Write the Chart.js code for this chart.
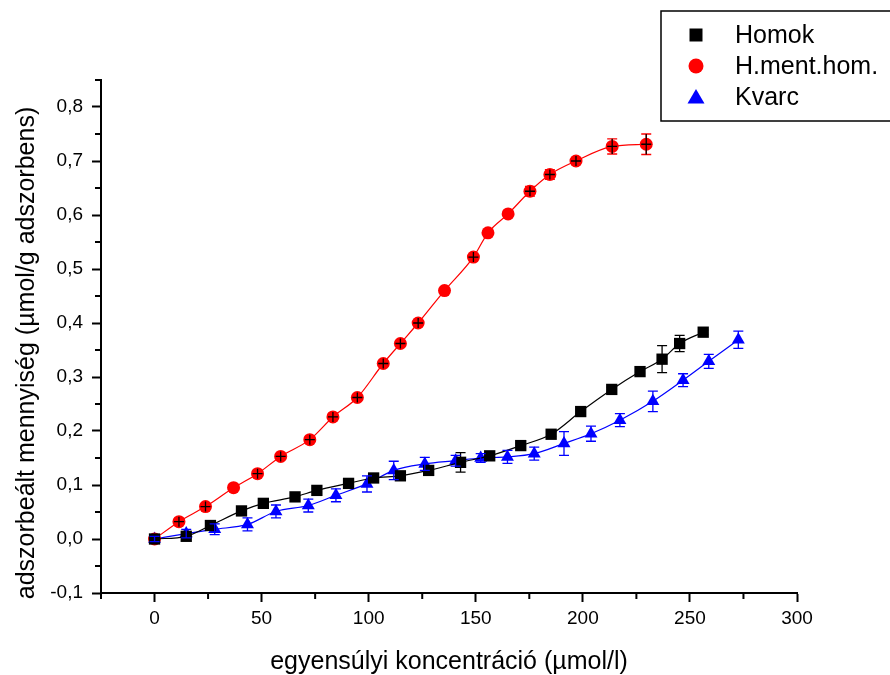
<!DOCTYPE html>
<html>
<head>
<meta charset="utf-8">
<script src="https://cdn.jsdelivr.net/npm/chart.js@4"></script>
<style>
  html, body { margin: 0; padding: 0; background: #fff; }
  #wrap { width: 890px; height: 675px; }
</style>
</head>
<body>
<div id="wrap"><canvas id="grafico" width="890" height="675"></canvas></div>
<script>
// Homok
const homokX = [0, 14.8, 26.1, 40.6, 50.8, 65.6, 75.8, 90.6, 102.3, 114.8, 128, 142.9, 156.5, 171, 185.2, 199, 213.5, 226.7, 237, 245.2, 256.2];
const homokY = [0, 0.005, 0.025, 0.052, 0.066, 0.078, 0.090, 0.103, 0.113, 0.117, 0.127, 0.142, 0.154, 0.173, 0.194, 0.236, 0.277, 0.310, 0.333, 0.362, 0.383];
const homokErr = [0, 0.004, 0.004, 0.004, 0.004, 0.004, 0.004, 0.004, 0.004, 0.004, 0.004, 0.018, 0.004, 0.004, 0.004, 0.004, 0.004, 0.004, 0.025, 0.015, 0.004];
// H.ment.hom.
const hmentX = [0, 11.4, 23.8, 36.9, 48.1, 58.9, 72.5, 83.3, 94.7, 106.8, 114.8, 123.1, 135.4, 148.9, 155.7, 165.1, 175.3, 184.6, 196.8, 213.7, 229.6];
const hmentY = [0, 0.032, 0.060, 0.095, 0.121, 0.153, 0.184, 0.226, 0.262, 0.325, 0.362, 0.400, 0.460, 0.522, 0.567, 0.602, 0.644, 0.675, 0.700, 0.727, 0.731];
const hmentErr = [0, 0.005, 0.005, 0, 0.004, 0.004, 0.005, 0.005, 0.005, 0.005, 0.005, 0.005, 0, 0.005, 0, 0, 0.009, 0.009, 0.006, 0.014, 0.019];
// Kvarc
const kvarcX = [0, 14.8, 28.1, 43.4, 56.7, 71.8, 84.7, 99.2, 111.7, 126.2, 140.6, 152.3, 164.8, 177.3, 191.2, 203.8, 217.3, 232.7, 246.8, 258.8, 272.6];
const kvarcY = [0, 0.010, 0.018, 0.027, 0.051, 0.062, 0.081, 0.102, 0.127, 0.139, 0.145, 0.150, 0.152, 0.158, 0.177, 0.195, 0.220, 0.255, 0.294, 0.329, 0.369];
const kvarcErr = [0.005, 0.008, 0.010, 0.012, 0.012, 0.012, 0.012, 0.015, 0.017, 0.012, 0.010, 0.008, 0.012, 0.012, 0.022, 0.014, 0.012, 0.019, 0.012, 0.013, 0.016];

const xMinor = [-25, 25, 75, 125, 175, 225, 275];
const yMinor = [-0.05, 0.05, 0.15, 0.25, 0.35, 0.45, 0.55, 0.65, 0.75, 0.85];

const yTitolo = "adszorbeált mennyiség (µmol/g adszorbens)";

const pts = (xs, ys) => xs.map((v, i) => ({ x: v, y: ys[i] }));

const serie = function (label, xs, ys, errs, color, style, radius) {
  return {
    label: label,
    data: pts(xs, ys),
    errors: errs,
    borderColor: color,
    backgroundColor: color,
    pointBackgroundColor: color,
    pointBorderColor: color,
    pointBorderWidth: 0,
    pointStyle: style,
    pointRadius: radius,
    borderWidth: 1.2,
    showLine: true,
    cubicInterpolationMode: "monotone",
  };
};

const font = "'Liberation Sans', Arial, sans-serif";

// barre d'errore + croci nere sui punti rossi
const errorBars = {
  id: "errorBars",
  afterDatasetsDraw(chart) {
    const ctx = chart.ctx;
    const x = chart.scales.x, y = chart.scales.y;
    ctx.save();
    chart.data.datasets.forEach((ds) => {
      ds.data.forEach((p, i) => {
        const e = ds.errors[i];
        if (!e) return;
        const px = x.getPixelForValue(p.x);
        const top = y.getPixelForValue(p.y + e);
        const bot = y.getPixelForValue(p.y - e);
        ctx.lineWidth = 1.3;
        ctx.strokeStyle = ds.borderColor;
        ctx.beginPath();
        ctx.moveTo(px, top); ctx.lineTo(px, bot);
        ctx.moveTo(px - 5, top); ctx.lineTo(px + 5, top);
        ctx.moveTo(px - 5, bot); ctx.lineTo(px + 5, bot);
        ctx.stroke();
        if (ds.label === "H.ment.hom.") {
          const py = y.getPixelForValue(p.y);
          ctx.strokeStyle = "#000";
          ctx.beginPath();
          ctx.moveTo(px, Math.min(top, py - 5)); ctx.lineTo(px, Math.max(bot, py + 5));
          ctx.moveTo(px - 5, py); ctx.lineTo(px + 5, py);
          ctx.stroke();
        }
      });
    });
    ctx.restore();
  },
};

// tacche secondarie, titolo asse y e legenda
const extras = {
  id: "extras",
  afterDraw(chart) {
    const ctx = chart.ctx;
    const x = chart.scales.x, y = chart.scales.y;
    const area = chart.chartArea;
    ctx.save();
    ctx.strokeStyle = "#000";
    ctx.lineWidth = 2;
    ctx.beginPath();
    xMinor.forEach((v) => {
      const px = x.getPixelForValue(v);
      ctx.moveTo(px, area.bottom); ctx.lineTo(px, area.bottom + 6);
    });
    yMinor.forEach((v) => {
      const py = y.getPixelForValue(v);
      ctx.moveTo(area.left, py); ctx.lineTo(area.left - 6, py);
    });
    ctx.stroke();

    // titolo asse y
    ctx.save();
    ctx.translate(34, 353);
    ctx.rotate(-Math.PI / 2);
    ctx.font = "25px " + font;
    ctx.fillStyle = "#000";
    ctx.textAlign = "center";
    ctx.textBaseline = "alphabetic";
    ctx.fillText(yTitolo, 0, 0);
    ctx.restore();

    // legenda
    ctx.lineWidth = 1.5;
    ctx.strokeRect(661, 11, 240, 110);
    ctx.font = "25px " + font;
    ctx.textBaseline = "middle";
    ctx.textAlign = "left";
    chart.data.datasets.forEach((ds, i) => {
      const cy = 35 + i * 31;
      ctx.fillStyle = ds.backgroundColor;
      ctx.beginPath();
      if (ds.pointStyle === "rect") {
        ctx.rect(689.5, cy - 6.5, 13, 13);
      } else if (ds.pointStyle === "circle") {
        ctx.arc(696, cy, 7.5, 0, Math.PI * 2);
      } else {
        ctx.moveTo(696, cy - 8); ctx.lineTo(704.5, cy + 6.5); ctx.lineTo(687.5, cy + 6.5); ctx.closePath();
      }
      ctx.fill();
      ctx.fillStyle = "#000";
      ctx.fillText(ds.label, 735, cy + 1);
    });
    ctx.restore();
  },
};

const config = {
  type: "scatter",
  data: {
    datasets: [
      serie("Homok", homokX, homokY, homokErr, "#000000", "rect", 8),
      serie("H.ment.hom.", hmentX, hmentY, hmentErr, "#ff0000", "circle", 6.5),
      serie("Kvarc", kvarcX, kvarcY, kvarcErr, "#0000ff", "triangle", 7.5),
    ],
  },
  options: {
    responsive: false,
    animation: false,
    layout: { padding: { top: 80, right: 93, left: 0, bottom: 0 } },
    plugins: { legend: { display: false }, tooltip: { enabled: false } },
    scales: {
      x: {
        type: "linear",
        min: -25,
        max: 300,
        afterFit: (s) => { s.height = 82; },
        afterBuildTicks: (s) => { s.ticks = s.ticks.filter((t) => t.value % 50 === 0); },
        ticks: { stepSize: 50, color: "#000", font: { family: font, size: 19 }, padding: 5, maxRotation: 0 },
        grid: { drawOnChartArea: false, drawTicks: true, tickLength: 9, tickColor: "#000", tickWidth: 2 },
        border: { color: "#000", width: 2 },
        title: { display: true, text: "egyensúlyi koncentráció (µmol/l)", color: "#000", font: { family: font, size: 25, lineHeight: 1.0 }, padding: { top: 0, bottom: 0 } },
      },
      y: {
        type: "linear",
        min: -0.1,
        max: 0.85,
        afterFit: (s) => { s.width = 101; },
        afterBuildTicks: (s) => { s.ticks = s.ticks.filter((t) => Math.abs(t.value * 10 - Math.round(t.value * 10)) < 1e-6); },
        ticks: {
          stepSize: 0.1,
          color: "#000",
          font: { family: font, size: 19 },
          padding: 9,
          callback: (v) => v.toFixed(1).replace(".", ","),
        },
        grid: { drawOnChartArea: false, drawTicks: true, tickLength: 9, tickColor: "#000", tickWidth: 2 },
        border: { color: "#000", width: 2 },
        title: { display: false },
      },
    },
  },
  plugins: [errorBars, extras],
};

const grafico = new Chart(document.getElementById("grafico"), config);
</script>
</body>
</html>
